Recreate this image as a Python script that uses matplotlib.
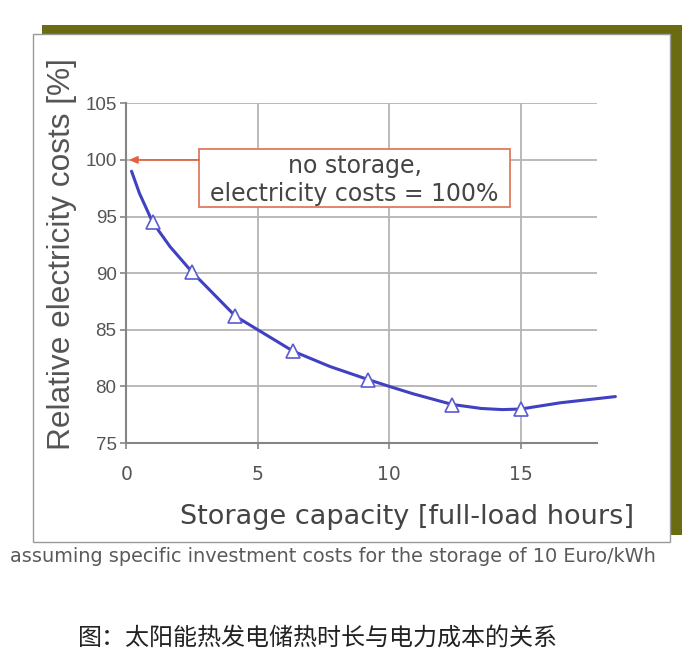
import matplotlib
matplotlib.use("Agg")
import matplotlib.pyplot as plt
from matplotlib.patches import Rectangle

# ---- data ----
curve_x = [0.2, 0.5, 1.0, 1.66, 2.5, 4.15, 5.0, 6.35, 7.75, 9.2, 10.0, 10.9, 12.4, 13.5, 14.3, 15.0, 16.5, 18.6]
curve_y = [99.0, 97.05, 94.5, 92.35, 90.1, 86.2, 85.0, 83.1, 81.75, 80.6, 80.0, 79.35, 78.4, 78.05, 77.95, 78.0, 78.55, 79.1]
marker_x = [1.0, 2.5, 4.15, 6.35, 9.2, 12.4, 15.0]
marker_y = [94.5, 90.1, 86.2, 83.1, 80.6, 78.4, 78.0]
x_ticks = [0, 5, 10, 15]
y_ticks = [75, 80, 85, 90, 95, 100, 105]
ref_value = 100

W, H = 700, 664
fig = plt.figure(figsize=(W / 100, H / 100), dpi=100)

def px(x, y):
    return x / W, 1 - y / H

# ---- frame with olive shadow ----
ox0, oy0 = px(42, 535)
fig.patches.append(Rectangle((ox0, oy0), (682 - 42) / W, (535 - 25) / H,
                             transform=fig.transFigure, facecolor="#6b6b12",
                             edgecolor="none", zorder=-3))
wx0, wy0 = px(33, 542)
fig.patches.append(Rectangle((wx0, wy0), (670 - 33) / W, (542 - 34) / H,
                             transform=fig.transFigure, facecolor="white",
                             edgecolor="#9a9a9a", linewidth=1.0, zorder=-2))

# ---- axes ----
ax = fig.add_axes([126.3 / W, 1 - 443 / H, (597 - 126.3) / W, (443 - 103.3) / H])
ax.set_zorder(1)
ax.set_facecolor("none")
ax.set_xlim(0, 17.9)
ax.set_ylim(75, 105)
ax.set_xticks(x_ticks)
ax.set_yticks(y_ticks)
ax.grid(True, color="#b4b4b4", linewidth=1.3)
ax.set_axisbelow(True)
for s in ["top", "right"]:
    ax.spines[s].set_visible(False)
for s in ["left", "bottom"]:
    ax.spines[s].set_color("#858585")
    ax.spines[s].set_linewidth(1.5)
ax.tick_params(axis="both", direction="out", length=4, width=1.2, color="#858585",
               labelcolor="#555555")
ax.tick_params(axis="y", pad=3)
ax.tick_params(axis="x", pad=12)
for lab in ax.get_yticklabels():
    lab.set_fontfamily("Liberation Sans")
    lab.set_fontsize(13.5)
for lab in ax.get_xticklabels():
    lab.set_fontfamily("DejaVu Sans")
    lab.set_fontsize(13.5)

ax.plot(curve_x, curve_y, color="#4040c2", linewidth=2.2, clip_on=False, zorder=3,
        solid_capstyle="round", solid_joinstyle="round")
ax.plot(marker_x, marker_y, linestyle="none", marker="^", markersize=10,
        markerfacecolor="white", markeredgecolor="#5a5ad2", markeredgewidth=1.2,
        clip_on=False, zorder=4)

# ---- annotation ----
bx0, by0 = (199 - 126.3) / 26.3, 105 - (207 - 103.3) / 11.33
bx1, by1 = (510 - 126.3) / 26.3, 105 - (149 - 103.3) / 11.33
ax.add_patch(Rectangle((bx0, by0), bx1 - bx0, by1 - by0, facecolor="white",
                       edgecolor="#e07a5f", linewidth=1.3, zorder=5))
ax.text((bx0 + bx1) / 2, (by0 + by1) / 2 - 0.15, "no storage,\nelectricity costs = 100%",
        ha="center", va="center", fontsize=17, color="#454545",
        family="DejaVu Sans", linespacing=1.2, zorder=6)
ax.annotate("", xy=(0.1, ref_value), xytext=(bx0, ref_value),
            arrowprops=dict(arrowstyle="-|>,head_length=0.5,head_width=0.22",
                            color="#e8603c", lw=1.2, shrinkA=0, shrinkB=0),
            zorder=6, annotation_clip=False)

# ---- labels ----
fx, fy = px(62, 254)
fig.text(fx, fy, "Relative electricity costs [%]", rotation=90, ha="center", va="center",
         fontsize=22.8, color="#555555", family="Liberation Sans")
fx, fy = px(407, 517)
fig.text(fx, fy, "Storage capacity [full-load hours]", ha="center", va="center",
         fontsize=19.5, color="#444444", family="DejaVu Sans")
fx, fy = px(333, 557)
fig.text(fx, fy, "assuming specific investment costs for the storage of 10 Euro/kWh",
         ha="center", va="center", fontsize=13.9, color="#5a5a5a", family="DejaVu Sans")
fx, fy = px(318, 638)
fig.text(fx, fy, "图：太阳能热发电储热时长与电力成本的关系", ha="center", va="center",
         fontsize=17.3, color="#222222", family=["Noto Sans CJK SC", "DejaVu Sans"])

fig.savefig("out.png", dpi=100)
